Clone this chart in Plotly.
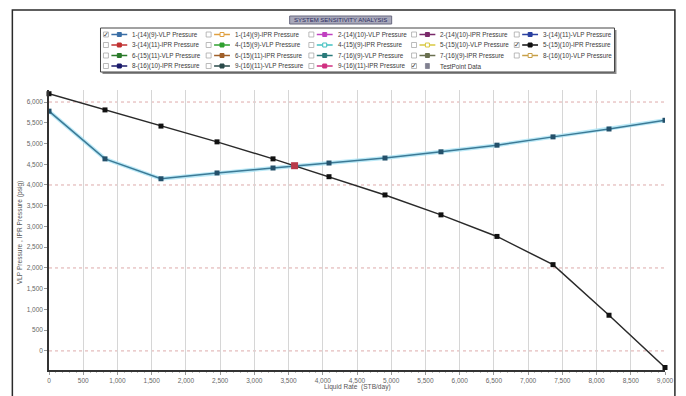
import plotly.graph_objects as go

# Nodal analysis curves (Liquid Rate in STB/day, pressures in psig)
liquid_rate = [0, 818, 1636, 2455, 3273, 4091, 4909, 5727, 6545, 7364, 8182, 9000]
vlp_pressure = [5780, 4630, 4150, 4290, 4410, 4530, 4650, 4800, 4960, 5160, 5350, 5560]
ipr_pressure = [6200, 5810, 5420, 5040, 4630, 4200, 3760, 3280, 2760, 2080, 860, -400]

# Operating point (VLP / IPR intersection)
operating_rate = [3588]
operating_pressure = [4465]

# Reference pressure lines
ref_pressures = [0, 2000, 4000, 6000]

# Legend entries: label, colour, hollow marker, checked
legend_labels = [
    "1-(14)(9)-VLP Pressure", "1-(14)(9)-IPR Pressure", "2-(14)(10)-VLP Pressure",
    "2-(14)(10)-IPR Pressure", "3-(14)(11)-VLP Pressure",
    "3-(14)(11)-IPR Pressure", "4-(15)(9)-VLP Pressure", "4-(15)(9)-IPR Pressure",
    "5-(15)(10)-VLP Pressure", "5-(15)(10)-IPR Pressure",
    "6-(15)(11)-VLP Pressure", "6-(15)(11)-IPR Pressure", "7-(16)(9)-VLP Pressure",
    "7-(16)(9)-IPR Pressure", "8-(16)(10)-VLP Pressure",
    "8-(16)(10)-IPR Pressure", "9-(16)(11)-VLP Pressure", "9-(16)(11)-IPR Pressure",
    "TestPoint Data",
]
legend_colors = [
    "#3a6ea5", "#e0a040", "#c040c0", "#7a2a6a", "#2a40a0",
    "#c03030", "#30a030", "#40c0c0", "#d8c840", "#111111",
    "#2a7a2a", "#a0602a", "#2a7a7a", "#6a7050", "#c8a048",
    "#1a1a6a", "#2a4a4a", "#d03080", "#808090",
]
legend_hollow = [False, True, False, False, False,
                 False, False, True, True, False,
                 False, False, False, False, True,
                 False, False, False, False]
legend_checked = [True, False, False, False, False,
                  False, False, False, False, True,
                  False, False, False, False, False,
                  False, False, False, True]

W, H = 686, 396
L, R, T, B = 49, 15, 90, 26
pw, ph = W - L - R, H - T - B


def px(x):
    return (x - L) / pw


def py(y):
    return 1 - (y - T) / ph


def text_at(text, x, y, size=6.6, color="#333333", xanchor="center", family="Liberation Sans", **kw):
    return dict(text=text, xref="paper", yref="paper", x=px(x), y=py(y),
                xanchor=xanchor, yanchor="middle", showarrow=False, borderpad=0,
                font=dict(family=family, size=size, color=color), **kw)


fig = go.Figure()

fig.add_trace(go.Scatter(
    x=liquid_rate, y=vlp_pressure, mode="lines",
    line=dict(color="rgba(170,228,245,0.8)", width=4),
    hoverinfo="skip", showlegend=False,
))
fig.add_trace(go.Scatter(
    x=liquid_rate, y=vlp_pressure, mode="lines+markers", name="VLP Pressure",
    line=dict(color="#3c7a96", width=1.5),
    marker=dict(symbol="square", size=5, color="#24506a"),
    showlegend=False,
))
fig.add_trace(go.Scatter(
    x=liquid_rate, y=ipr_pressure, mode="lines+markers", name="IPR Pressure",
    line=dict(color="#2a2a2a", width=1.5),
    marker=dict(symbol="square", size=5, color="#111111"),
    showlegend=False, cliponaxis=False,
))
fig.add_trace(go.Scatter(
    x=operating_rate, y=operating_pressure, mode="markers", name="Operating Point",
    marker=dict(symbol="square", size=7, color="#b83a4a"),
    showlegend=False,
))

shapes = []
annotations = []

# dotted reference lines
for p in ref_pressures:
    shapes.append(dict(type="line", xref="paper", yref="y", x0=0, x1=1, y0=p, y1=p,
                       line=dict(color="#d9a0a0", width=0.9, dash="dot"), layer="below"))

# outer frame
shapes.append(dict(type="rect", xref="paper", yref="paper",
                   x0=px(12), x1=px(681), y0=py(10), y1=py(402),
                   line=dict(color="#2a2a2a", width=1.5), fillcolor="rgba(0,0,0,0)"))

# title box
shapes.append(dict(type="rect", xref="paper", yref="paper",
                   x0=px(292), x1=px(395), y0=py(16), y1=py(24),
                   line=dict(color="#6a6a80", width=1), fillcolor="#a8a8ba"))
annotations.append(text_at("SYSTEM SENSITIVITY ANALYSIS", 343.5, 20.3, size=6, color="#2a2a60"))

# legend box with shadow
shapes.append(dict(type="rect", xref="paper", yref="paper",
                   x0=px(103), x1=px(622), y0=py(30), y1=py(74),
                   line=dict(width=0), fillcolor="#8a8a8a"))
shapes.append(dict(type="rect", xref="paper", yref="paper",
                   x0=px(101), x1=px(620), y0=py(28), y1=py(72),
                   line=dict(color="#444444", width=1), fillcolor="white"))

for i, label in enumerate(legend_labels):
    col, row = i % 5, i // 5
    cx = 104 + col * 103.7
    cy = 34.5 + row * 10.5
    color = legend_colors[i]
    shapes.append(dict(type="rect", xref="paper", yref="paper",
                       x0=px(cx), x1=px(cx + 5), y0=py(cy - 2.5), y1=py(cy + 2.5),
                       line=dict(color="#aaaaaa", width=0.8), fillcolor="white"))
    if legend_checked[i]:
        annotations.append(text_at("✓", cx + 2.7, cy, size=7, color="#333333", family="DejaVu Sans"))
    if label == "TestPoint Data":
        shapes.append(dict(type="rect", xref="paper", yref="paper",
                           x0=px(cx + 14), x1=px(cx + 18), y0=py(cy - 2.5), y1=py(cy + 2.5),
                           line=dict(color=color, width=0.8), fillcolor=color))
    else:
        shapes.append(dict(type="line", xref="paper", yref="paper",
                           x0=px(cx + 8), x1=px(cx + 24), y0=py(cy), y1=py(cy),
                           line=dict(color=color, width=1.5)))
        shapes.append(dict(type="rect", xref="paper", yref="paper",
                           x0=px(cx + 14), x1=px(cx + 18), y0=py(cy - 2), y1=py(cy + 2),
                           line=dict(color=color, width=1),
                           fillcolor="white" if legend_hollow[i] else color))
    annotations.append(text_at(label, cx + 28, cy, size=6.3, color="#3a3a3a", xanchor="left"))

# axis titles
annotations.append(text_at("VLP Pressure , IPR Pressure (psig)", 20, 232, color="#555555", textangle=-90))
annotations.append(text_at("Liquid Rate  (STB/day)", 360, 387, color="#555555"))

tick_font = dict(family="Liberation Sans", size=6.5, color="#666666")

fig.update_layout(
    width=W, height=H,
    margin=dict(l=L, r=R, t=T, b=B),
    paper_bgcolor="white", plot_bgcolor="white",
    shapes=shapes, annotations=annotations,
    xaxis=dict(range=[0, 9000], dtick=500, tick0=0, tickformat=",d",
               showgrid=True, gridcolor="#d6d6d6", gridwidth=1,
               showline=True, linecolor="#333333", linewidth=1.5,
               ticks="outside", ticklen=3, tickcolor="#999999",
               minor=dict(dtick=100, ticklen=1.5, tickcolor="#bbbbbb", ticks="outside"),
               zeroline=False, tickfont=tick_font, fixedrange=True),
    yaxis=dict(range=[-460, 6290], dtick=500, tick0=0, tickformat=",d",
               showgrid=False, showline=True, linecolor="#333333", linewidth=1.5,
               ticks="outside", ticklen=3, tickcolor="#999999",
               zeroline=False, tickfont=tick_font, fixedrange=True),
    showlegend=False,
)

fig.write_html("out.html")
